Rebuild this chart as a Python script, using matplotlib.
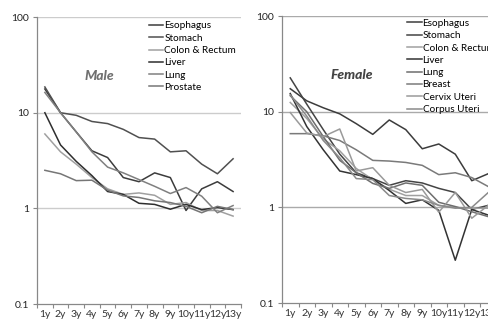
import matplotlib
matplotlib.use('Agg')
import matplotlib.pyplot as plt
from matplotlib.ticker import FixedLocator, NullFormatter, NullLocator

plt.rcParams['font.family'] = ['Lato', 'DejaVu Sans']

years = ['1y', '2y', '3y', '4y', '5y', '6y', '7y', '8y', '9y', '10y', '11y', '12y', '13y']

# male hazard per site
male_sites = ['Esophagus', 'Stomach', 'Colon & Rectum', 'Liver', 'Lung', 'Prostate']
male_esophagus = [17.7, 10, 6.3, 4.0, 3.4, 2.1, 1.9, 2.35, 2.1, 0.95, 1.6, 1.9, 1.5]
male_stomach = [18.6, 10, 9.4, 8.1, 7.7, 6.7, 5.5, 5.3, 3.9, 4.0, 2.9, 2.3, 3.3]
male_colon = [6.0, 3.9, 2.9, 2.1, 1.6, 1.4, 1.45, 1.37, 1.1, 1.15, 0.95, 0.95, 0.83]
male_liver = [10, 4.6, 3.1, 2.2, 1.5, 1.4, 1.13, 1.1, 0.98, 1.1, 0.97, 1.02, 0.97]
male_lung = [16.3, 10, 6.3, 3.9, 2.7, 2.35, 2.0, 1.7, 1.43, 1.65, 1.34, 0.9, 1.07]
male_prostate = [2.5, 2.3, 1.95, 1.97, 1.55, 1.35, 1.3, 1.2, 1.15, 1.05, 0.9, 1.05, 0.97]
male_colors = ['#3c3c3c', '#505050', '#a0a0a0', '#2e2e2e', '#808080', '#767676']

# female hazard per site
female_sites = ['Esophagus', 'Stomach', 'Colon & Rectum', 'Liver', 'Lung', 'Breast',
                'Cervix Uteri', 'Corpus Uteri']
female_esophagus = [17.4, 13, 11, 9.5, 7.5, 5.8, 8.2, 6.5, 4.1, 4.6, 3.6, 1.9, 2.25]
female_stomach = [22.6, 12.0, 6.5, 3.6, 2.3, 2.0, 1.7, 1.9, 1.8, 1.58, 1.43, 0.95, 1.05]
female_colon = [12.5, 8.5, 5.2, 3.9, 2.55, 1.95, 1.55, 1.33, 1.33, 1.05, 1.0, 0.98, 0.98]
female_liver = [15.5, 7.0, 4.0, 2.4, 2.2, 2.0, 1.5, 1.1, 1.2, 0.93, 0.28, 0.95, 0.83]
female_lung = [14.7, 10.0, 5.5, 3.1, 2.3, 1.78, 1.58, 1.8, 1.7, 1.13, 1.02, 0.9, 0.8]
female_breast = [5.9, 5.9, 5.6, 5.0, 4.0, 3.1, 3.05, 2.95, 2.75, 2.2, 2.3, 2.05, 1.65]
female_cervix = [9.8, 6.0, 5.5, 6.6, 2.4, 2.6, 1.7, 1.43, 1.54, 0.89, 1.43, 0.77, 1.05]
female_corpus = [15.0, 9.0, 5.0, 3.3, 2.0, 1.95, 1.33, 1.24, 1.2, 1.05, 0.98, 1.0, 1.43]
female_colors = ['#3c3c3c', '#444444', '#a0a0a0', '#333333', '#6e6e6e', '#7a7a7a',
                 '#9a9a9a', '#8a8a8a']

male_data = [male_esophagus, male_stomach, male_colon, male_liver, male_lung, male_prostate]
female_data = [female_esophagus, female_stomach, female_colon, female_liver, female_lung,
               female_breast, female_cervix, female_corpus]

fig = plt.figure(figsize=(4.89, 3.22), dpi=100)
ax_m = fig.add_axes([0.0757, 0.0559, 0.417, 0.891])
# the female panel runs a little past the right edge of the figure
ax_f = fig.add_axes([0.5767, 0.059, 0.4387, 0.891])


def setup(ax, grid_color):
    ax.set_yscale('log')
    ax.set_ylim(0.1, 100)
    ax.set_xlim(-0.5, len(years) - 0.5)
    for v in [1, 10, 100]:
        ax.axhline(v, color=grid_color, lw=1.0, zorder=0)
    ax.yaxis.set_major_locator(FixedLocator([0.1, 1, 10, 100]))
    ax.yaxis.set_minor_locator(NullLocator())
    ax.set_yticklabels(['0.1', '1', '10', '100'])
    ax.set_xticks(range(len(years)))
    ax.set_xticklabels(years)
    ax.set_xticks([i - 0.5 for i in range(len(years) + 1)], minor=True)
    ax.xaxis.set_minor_formatter(NullFormatter())
    ax.tick_params(axis='x', which='major', length=0, pad=4, labelsize=7.5, colors='#333333')
    ax.tick_params(axis='x', which='minor', length=3, width=0.8, color='#888888')
    ax.tick_params(axis='y', which='major', length=3, width=0.8, color='#888888',
                   labelsize=7.5, colors='#222222', pad=3)
    ax.tick_params(axis='y', which='major', color='#888888')
    for side in ['top', 'right']:
        ax.spines[side].set_visible(False)
    for side in ['left', 'bottom']:
        ax.spines[side].set_color('#888888')
        ax.spines[side].set_linewidth(0.9)


setup(ax_m, '#cccccc')
setup(ax_f, '#aaaaaa')

x = range(len(years))
for name, vals, c in zip(male_sites, male_data, male_colors):
    ax_m.plot(x, vals, color=c, lw=1.1, label=name)
for name, vals, c in zip(female_sites, female_data, female_colors):
    ax_f.plot(x, vals, color=c, lw=1.1, label=name)

leg_kw = dict(frameon=False, fontsize=7.2, handlelength=1.45, handletextpad=0.1,
              labelspacing=0.33, borderpad=0, borderaxespad=0, loc='upper left')
ax_m.legend(bbox_to_anchor=(0.549, 0.985), **leg_kw)
ax_f.legend(bbox_to_anchor=(0.583, 0.99), **leg_kw)

ax_m.text(0.305, 0.795, 'Male', transform=ax_m.transAxes, ha='center', va='center',
          fontsize=10, fontweight='black', fontstyle='italic', color='#707070')
ax_f.text(0.325, 0.795, 'Female', transform=ax_f.transAxes, ha='center', va='center',
          fontsize=10, fontweight='black', fontstyle='italic', color='#444444')

fig.savefig('out.png', dpi=100)
